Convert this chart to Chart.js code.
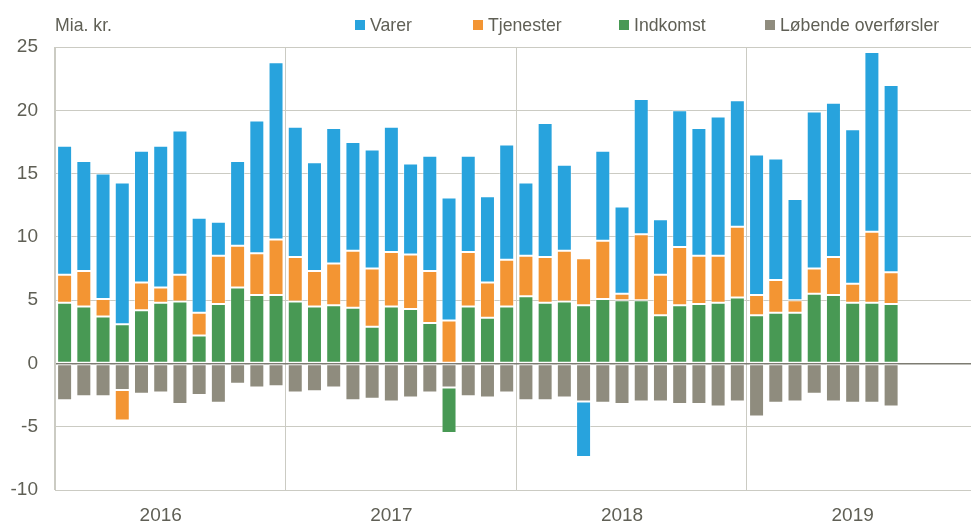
<!DOCTYPE html>
<html>
<head>
<meta charset="utf-8">
<script src="https://cdn.jsdelivr.net/npm/chart.js@4"></script>
<style>
  html, body { margin: 0; padding: 0; background: #fff; overflow: hidden; }
  #wrap { width: 982px; height: 526px; }
</style>
</head>
<body>
<div id="wrap"><canvas id="chart" width="982" height="526"></canvas></div>
<script>
// Mia. kr., monthly, Jan 2016 - Aug 2019
const years = ['2016', '2017', '2018', '2019'];
const months = ['jan', 'feb', 'mar', 'apr', 'maj', 'jun', 'jul', 'aug', 'sep', 'okt', 'nov', 'dec'];

const varer = [
  10.2, 8.7, 9.9, 11.2, 10.4, 11.2, 11.4, 7.5, 2.7, 6.7, 10.5, 14.0,
  10.3, 8.6, 10.7, 8.6, 9.4, 9.9, 7.2, 9.1, 9.7, 7.6, 6.8, 9.1,
  5.8, 10.6, 6.8, -4.4, 7.1, 6.9, 10.7, 4.4, 10.8, 10.1, 11.0, 10.0,
  11.1, 9.6, 8.0, 12.4, 12.2, 12.2, 14.2, 14.8, null, null, null, null
];
const tjenester = [
  2.2, 2.8, 1.4, -2.4, 2.2, 1.2, 2.1, 1.8, 3.8, 3.3, 3.3, 4.4,
  3.5, 2.8, 3.3, 4.5, 4.6, 4.3, 4.3, 4.1, 3.4, 4.3, 2.8, 3.7,
  3.2, 3.6, 4.0, 3.7, 4.6, 0.5, 5.2, 3.2, 4.6, 3.8, 3.7, 5.6,
  1.6, 2.6, 1.0, 2.0, 3.0, 1.5, 5.6, 2.5, null, null, null, null
];
const indkomst = [
  4.8, 4.5, 3.7, 3.1, 4.2, 4.8, 4.9, 2.2, 4.7, 6.0, 5.4, 5.4,
  4.9, 4.5, 4.6, 4.4, 2.9, 4.5, 4.3, 3.2, -3.6, 4.5, 3.6, 4.5,
  5.3, 4.8, 4.9, 4.6, 5.1, 5.0, 5.0, 3.8, 4.6, 4.7, 4.8, 5.2,
  3.8, 4.0, 4.0, 5.5, 5.4, 4.8, 4.8, 4.7, null, null, null, null
];
const overforsler = [
  -2.9, -2.6, -2.6, -2.1, -2.4, -2.3, -3.2, -2.5, -3.1, -1.6, -1.9, -1.8,
  -2.3, -2.2, -1.9, -2.9, -2.8, -3.0, -2.7, -2.3, -1.9, -2.6, -2.7, -2.3,
  -2.9, -2.9, -2.7, -3.0, -3.1, -3.2, -3.0, -3.0, -3.2, -3.2, -3.4, -3.0,
  -4.2, -3.1, -3.0, -2.4, -3.0, -3.1, -3.1, -3.4, null, null, null, null
];

const labels = years.flatMap(y => months.map(m => m + ' ' + y));

const fontFamily = '"Liberation Sans", Arial, sans-serif';
const textColor = '#5f5f55';
const gridColor = '#cbcbc3';

// narrow-looking text: draw with a slight horizontal squeeze
function narrowText(ctx, text, x, y) {
  ctx.save();
  ctx.translate(x, y);
  ctx.scale(0.93, 1);
  ctx.fillText(text, 0, 0);
  ctx.restore();
}

// legend and unit label drawn on top of the canvas
const topText = {
  id: 'topText',
  afterDraw(chart) {
    const ctx = chart.ctx;
    ctx.save();
    ctx.font = '19px ' + fontFamily;
    ctx.fillStyle = textColor;
    ctx.textBaseline = 'alphabetic';
    narrowText(ctx, 'Mia. kr.', 55, 31);

    const starts = [355, 473, 619, 765];
    const items = chart.data.datasets.slice().reverse();
    items.forEach((ds, i) => {
      ctx.fillStyle = ds.backgroundColor;
      ctx.fillRect(starts[i], 20, 10, 10);
      ctx.fillStyle = textColor;
      narrowText(ctx, ds.label, starts[i] + 15, 31);
    });
    ctx.restore();
  }
};

new Chart(document.getElementById('chart'), {
  type: 'bar',
  data: {
    labels: labels,
    datasets: [
      { label: 'Løbende overførsler', data: overforsler, backgroundColor: '#8f8c7e' },
      { label: 'Indkomst', data: indkomst, backgroundColor: '#489954' },
      { label: 'Tjenester', data: tjenester, backgroundColor: '#f39533' },
      { label: 'Varer', data: varer, backgroundColor: '#28a3dd' }
    ]
  },
  options: {
    responsive: false,
    animation: false,
    layout: { padding: { top: 47, right: 0, left: 0, bottom: 0 } },
    datasets: {
      bar: {
        categoryPercentage: 1,
        barPercentage: 0.78,
        borderWidth: 1,
        borderColor: 'rgba(255,255,255,0.45)',
        borderSkipped: false
      }
    },
    plugins: {
      legend: { display: false },
      tooltip: { enabled: false }
    },
    scales: {
      x: {
        stacked: true,
        afterFit: s => { s.height = 36; },
        border: { display: true, color: gridColor },
        grid: {
          offset: true,
          drawTicks: false,
          color: c => (c.index % 12 === 0 ? gridColor : 'rgba(0,0,0,0)'),
          lineWidth: 1
        },
        ticks: {
          autoSkip: false,
          maxRotation: 0,
          padding: 14,
          color: textColor,
          font: { family: fontFamily, size: 19 },
          callback: (v, i) => (i % 12 === 5 ? years[Math.floor(i / 12)] : '')
        }
      },
      y: {
        stacked: true,
        min: -10,
        max: 25,
        afterFit: s => { s.width = 55; },
        border: { display: true, color: gridColor },
        grid: {
          drawTicks: false,
          color: c => (c.tick.value === 0 ? '#7d7c72' : gridColor),
          lineWidth: c => (c.tick.value === 0 ? 1.5 : 1)
        },
        ticks: {
          stepSize: 5,
          padding: 17,
          color: textColor,
          font: { family: fontFamily, size: 19 }
        }
      }
    }
  },
  plugins: [topText]
});
</script>
</body>
</html>
